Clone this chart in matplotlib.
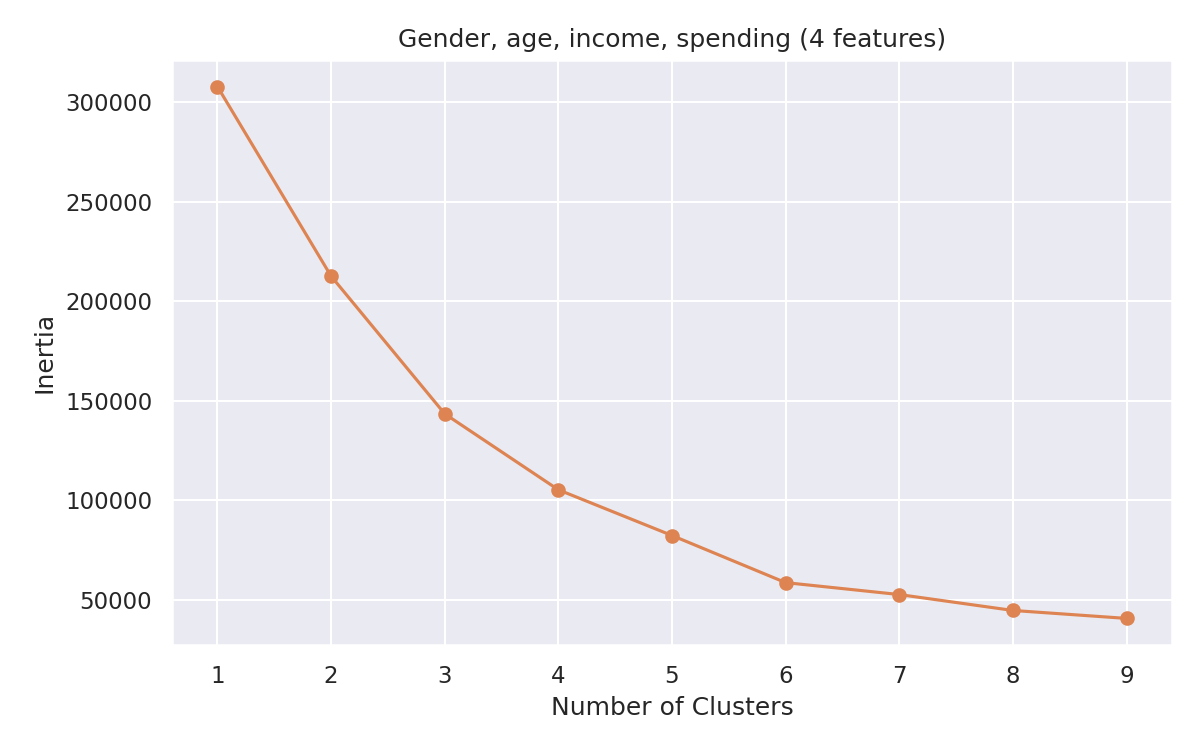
import matplotlib
matplotlib.use("Agg")
import matplotlib.pyplot as plt
import seaborn as sns

sns.set_theme(style="darkgrid")

# elbow data
n_clusters = [1, 2, 3, 4, 5, 6, 7, 8, 9]
inertia = [308000, 212650, 143400, 105200, 82200, 58500, 52500, 44500, 40500]

fig, ax = plt.subplots(figsize=(8, 5), dpi=150)
ax.plot(n_clusters, inertia, marker="o", color=sns.color_palette()[1])
ax.set_title("Gender, age, income, spending (4 features)")
ax.set_xlabel("Number of Clusters")
ax.set_ylabel("Inertia")
ax.set_xticks(n_clusters)

fig.subplots_adjust(left=172/1200, right=1172/1200, top=1-60/750, bottom=1-645/750)
fig.savefig("out.png")
